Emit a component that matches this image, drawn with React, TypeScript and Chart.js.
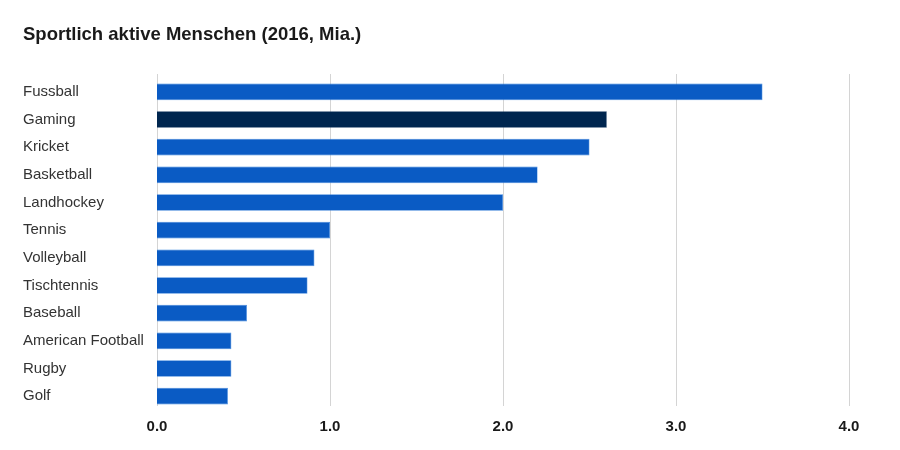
import React, { useEffect, useRef } from "react";
import { Chart, registerables } from "chart.js";

Chart.register(...registerables);

const categories = [
  "Fussball",
  "Gaming",
  "Kricket",
  "Basketball",
  "Landhockey",
  "Tennis",
  "Volleyball",
  "Tischtennis",
  "Baseball",
  "American Football",
  "Rugby",
  "Golf",
];
const values = [3.5, 2.6, 2.5, 2.2, 2.0, 1.0, 0.91, 0.87, 0.52, 0.43, 0.43, 0.41];
const highlighted = "Gaming";
const xTicks = [0, 1, 2, 3, 4];
const title = "Sportlich aktive Menschen (2016, Mia.)";

const gridPlugin = {
  id: "shiftedGrid",
  beforeDatasetsDraw(chart: any) {
    const { ctx, chartArea, scales } = chart;
    const xs = scales.x;
    ctx.save();
    ctx.strokeStyle = "#d4d4d4";
    ctx.lineWidth = 1;
    xTicks.forEach((v) => {
      const px = Math.round(xs.getPixelForValue(v)) + 0.5;
      ctx.beginPath();
      ctx.moveTo(px, chartArea.top - 4);
      ctx.lineTo(px, chartArea.bottom - 4);
      ctx.stroke();
    });
    ctx.restore();
  },
};

export default function App() {
  const ref = useRef<HTMLCanvasElement | null>(null);

  useEffect(() => {
    if (!ref.current) return;
    const chart = new Chart(ref.current, {
      type: "bar",
      data: {
        labels: categories,
        datasets: [
          {
            data: values,
            backgroundColor: categories.map((c) => (c === highlighted ? "#00264f" : "#0a5bc4")),
            borderColor: categories.map((c) => (c === highlighted ? "#0a2e58" : "#3b86e0")),
            borderWidth: 0.6,
            barPercentage: 0.6,
            categoryPercentage: 1,
          },
        ],
      },
      options: {
        indexAxis: "y",
        animation: false,
        responsive: false,
        maintainAspectRatio: false,
        layout: { padding: { left: 23, right: 51, top: 0, bottom: 0 } },
        plugins: {
          legend: { display: false },
          tooltip: { enabled: false },
          title: {
            display: true,
            text: title,
            align: "start",
            color: "#1a1a1a",
            font: { family: "Liberation Sans", size: 18.5, weight: "bold" },
            padding: { top: 24, bottom: 31.8 },
          },
        },
        scales: {
          x: {
            min: 0,
            max: 4,
            afterBuildTicks: (scale: any) => {
              scale.ticks = xTicks.map((v) => ({ value: v }));
            },
            afterFit: (scale: any) => {
              scale.height = 40;
            },
            grid: { display: false, drawTicks: false },
            border: { display: false },
            ticks: {
              padding: 8,
              color: "#1a1a1a",
              font: { family: "Liberation Sans", size: 15, weight: "bold" },
              callback: (v: any) => Number(v).toFixed(1),
            },
          },
          y: {
            afterFit: (scale: any) => {
              scale.width = 134;
            },
            grid: { display: false },
            border: { display: false },
            ticks: {
              crossAlign: "far",
              color: "#333333",
              font: { family: "Liberation Sans", size: 15 },
            },
          },
        },
      },
      plugins: [gridPlugin],
    });
    return () => chart.destroy();
  }, []);

  return (
    <div style={{ position: "absolute", left: 0, top: 0, width: 900, height: 450, background: "#fff" }}>
      <canvas ref={ref} width={900} height={450} style={{ width: 900, height: 450 }} />
    </div>
  );
}
